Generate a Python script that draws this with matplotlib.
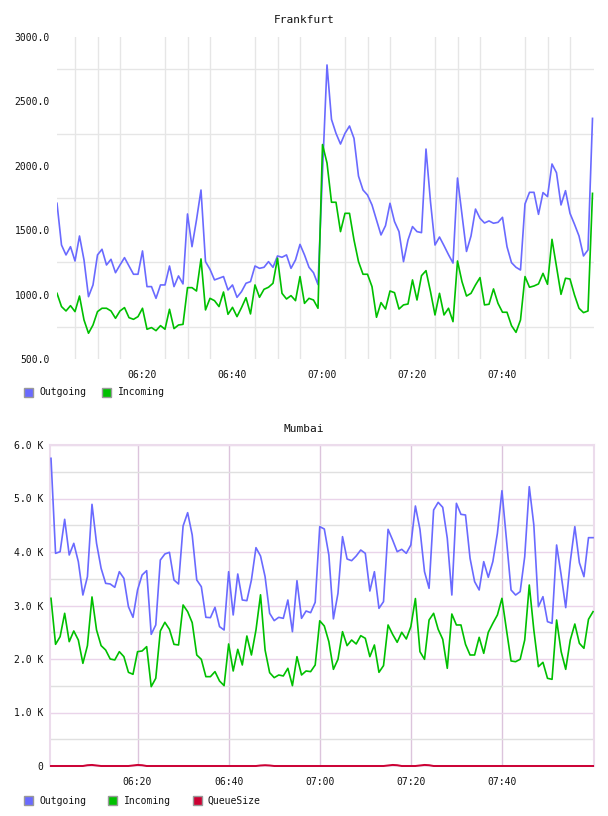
import numpy as np
import pandas as pd
import matplotlib
matplotlib.use("Agg")
import matplotlib.pyplot as plt
import matplotlib.dates as mdates
from matplotlib.patches import Rectangle
from matplotlib.ticker import FixedLocator, FuncFormatter

# ---------------- data ----------------
times = pd.date_range("2024-01-01 06:01", periods=120, freq="min")
x_label_times = pd.to_datetime(["2024-01-01 06:20", "2024-01-01 06:40", "2024-01-01 07:00",
                                "2024-01-01 07:20", "2024-01-01 07:40"])
x_tick_labels = ["06:20", "06:40", "07:00", "07:20", "07:40"]

fra_title = "Frankfurt"
fra_series = ["Outgoing", "Incoming"]
fra_outgoing = [
    1709, 1385, 1308, 1372, 1261, 1455, 1269, 984, 1075, 1308,
    1352, 1230, 1274, 1170, 1230, 1287, 1222, 1158, 1158, 1339,
    1062, 1062, 971, 1075, 1075, 1222, 1062, 1145, 1083, 1626,
    1372, 1580, 1812, 1256, 1196, 1114, 1127, 1140, 1036, 1075,
    979, 1023, 1088, 1101, 1222, 1204, 1212, 1256, 1212, 1300,
    1290, 1308, 1204, 1269, 1390, 1308, 1212, 1170, 1078, 1950,
    2783, 2360, 2252, 2169, 2252, 2309, 2213, 1920, 1812, 1773,
    1696, 1579, 1463, 1535, 1709, 1567, 1489, 1256, 1424, 1528,
    1489, 1481, 2130, 1720, 1385, 1447, 1380, 1310, 1245, 1905,
    1620, 1335, 1455, 1664, 1592, 1556, 1572, 1554, 1561, 1600,
    1372, 1248, 1212, 1191, 1704, 1794, 1794, 1623, 1792, 1761,
    2014, 1946, 1696, 1807, 1631, 1546, 1455, 1300, 1347, 2368,
]
fra_incoming = [
    1010, 907, 873, 914, 868, 989, 803, 700, 764, 868,
    894, 894, 873, 816, 873, 899, 821, 808, 829, 894,
    731, 744, 720, 759, 731, 886, 736, 764, 769, 1054,
    1054, 1028, 1277, 881, 971, 953, 907, 1020, 847, 901,
    829, 899, 976, 850, 1075, 979, 1041, 1057, 1088, 1282,
    1010, 966, 992, 953, 1140, 932, 971, 958, 894, 2165,
    2022, 1717, 1717, 1489, 1631, 1631, 1424, 1256, 1158, 1158,
    1062, 824, 938, 888, 1028, 1015, 888, 920, 927, 1114,
    958, 1147, 1186, 1023, 842, 1010, 842, 894, 790, 1261,
    1100, 989, 1010, 1075, 1132, 920, 925, 1044, 932, 863,
    863, 759, 707, 803, 1140, 1057, 1067, 1083, 1165, 1080,
    1429, 1217, 1002, 1127, 1121, 997, 894, 860, 873, 1786,
]
fra_y_ticks = [500, 1000, 1500, 2000, 2500, 3000]

mum_title = "Mumbai"
mum_series = ["Outgoing", "Incoming", "QueueSize"]
mum_outgoing = [
    5751, 3975, 4006, 4611, 3944, 4162, 3820, 3196, 3539, 4891,
    4162, 3695, 3414, 3402, 3340, 3632, 3508, 2978, 2779, 3290,
    3570, 3651, 2461, 2636, 3850, 3963, 3994, 3477, 3402, 4486,
    4735, 4318, 3477, 3352, 2779, 2773, 2966, 2605, 2542, 3632,
    2823, 3589, 3103, 3090, 3477, 4081, 3925, 3539, 2854, 2717,
    2779, 2760, 3103, 2511, 3464, 2760, 2897, 2866, 3060, 4474,
    4430, 3944, 2750, 3227, 4287, 3869, 3838, 3925, 4037, 3975,
    3271, 3632, 2947, 3072, 4424, 4224, 4006, 4050, 3975, 4131,
    4860, 4424, 3632, 3321, 4785, 4928, 4835, 4256, 3196, 4910,
    4704, 4692, 3882, 3446, 3290, 3820, 3527, 3820, 4349, 5146,
    4224, 3290, 3196, 3259, 3913, 5221, 4505, 2978, 3165, 2698,
    2667, 4131, 3570, 2960, 3820, 4474, 3800, 3539, 4268, 4268,
]
mum_incoming = [
    3134, 2274, 2418, 2854, 2324, 2524, 2355, 1919, 2250, 3160,
    2542, 2250, 2168, 2000, 1982, 2137, 2044, 1751, 1714, 2137,
    2150, 2231, 1483, 1639, 2524, 2686, 2555, 2274, 2262, 3010,
    2885, 2679, 2075, 1994, 1670, 1670, 1764, 1589, 1502, 2281,
    1776, 2181, 1888, 2430, 2075, 2542, 3200, 2168, 1745, 1651,
    1701, 1683, 1826, 1502, 2044, 1701, 1776, 1764, 1888, 2714,
    2617, 2324, 1807, 1994, 2511, 2250, 2355, 2281, 2436, 2387,
    2044, 2262, 1751, 1876, 2636, 2461, 2312, 2499, 2374, 2605,
    3130, 2137, 1994, 2729, 2854, 2555, 2368, 1826, 2841, 2636,
    2636, 2274, 2075, 2075, 2405, 2106, 2499, 2667, 2823, 3134,
    2542, 1963, 1950, 1994, 2355, 3383, 2542, 1857, 1938, 1639,
    1620, 2729, 2137, 1807, 2355, 2654, 2293, 2200, 2742, 2885,
]
mum_queue = [
    0, 0, 0, 0, 0, 0, 0, 0, 15, 20,
    10, 0, 0, 0, 0, 0, 0, 0, 10, 20,
    15, 0, 0, 0, 0, 0, 0, 0, 0, 0,
    0, 0, 0, 0, 0, 0, 0, 0, 0, 0,
    0, 0, 0, 0, 0, 0, 10, 15, 10, 0,
    0, 0, 0, 0, 0, 0, 0, 0, 0, 0,
    0, 0, 0, 0, 0, 0, 0, 0, 0, 0,
    0, 0, 0, 0, 10, 20, 15, 0, 0, 0,
    0, 10, 20, 15, 0, 0, 0, 0, 0, 0,
    0, 0, 0, 0, 0, 0, 0, 0, 0, 0,
    0, 0, 0, 0, 0, 0, 0, 0, 0, 0,
    0, 0, 0, 0, 0, 0, 0, 0, 0, 0,
]
mum_y_ticks = [0, 1000, 2000, 3000, 4000, 5000, 6000]

colors = {"Outgoing": "#6a6aff", "Incoming": "#00c000", "QueueSize": "#cc0033"}

# ---------------- layout ----------------
W, H = 608, 816
fig = plt.figure(figsize=(W / 100, H / 100), dpi=100)
fig.patch.set_facecolor("white")
MONO = ["DejaVu Sans Mono"]
TXT = "#111111"


def px_axes(left, top, right, bottom):
    return fig.add_axes([left / W, (H - bottom) / H, (right - left) / W, (bottom - top) / H])


x = mdates.date2num(times)
one_min = 1.0 / (24 * 60)
grid5 = mdates.date2num(pd.date_range("2024-01-01 06:05", "2024-01-01 07:55", freq="5min"))
major_x = mdates.date2num(x_label_times)

# ---------------- Frankfurt ----------------
ax1 = px_axes(57, 37, 594, 359)
ax1.plot(x, fra_outgoing, color=colors["Outgoing"], lw=1.2, zorder=3)
ax1.plot(x, fra_incoming, color=colors["Incoming"], lw=1.2, zorder=3)
ax1.set_xlim(x[0], x[0] + 537 / 4.5 * one_min)
ax1.set_ylim(500, 3000)
ax1.xaxis.set_major_locator(FixedLocator(major_x))
ax1.set_xticklabels(x_tick_labels)
ax1.xaxis.set_minor_locator(FixedLocator(grid5))
ax1.yaxis.set_major_locator(FixedLocator(fra_y_ticks))
ax1.yaxis.set_major_formatter(FuncFormatter(lambda v, p: f"{v:.1f}"))
ax1.yaxis.set_minor_locator(FixedLocator([750, 1250, 1750, 2250, 2750]))
ax1.xaxis.grid(False, which="major")
ax1.yaxis.grid(False, which="major")
ax1.xaxis.grid(True, which="minor", color="#e6e6e6", lw=1.0)
ax1.yaxis.grid(True, which="minor", color="#e6e6e6", lw=1.0)
ax1.set_axisbelow(True)
for s in ax1.spines.values():
    s.set_visible(False)
ax1.tick_params(which="both", length=0)
ax1.tick_params(axis="y", pad=5)
ax1.tick_params(axis="x", pad=8)
for lab in ax1.get_xticklabels() + ax1.get_yticklabels():
    lab.set_family(MONO)
    lab.set_fontsize(7)
    lab.set_color(TXT)

fig.text(0.5, (H - 20) / H, fra_title, ha="center", va="center",
         family=MONO, fontsize=8, color=TXT)

# ---------------- Mumbai ----------------
ax2 = px_axes(50, 445, 594, 766)
ax2.plot(x, mum_outgoing, color=colors["Outgoing"], lw=1.2, zorder=3)
ax2.plot(x, mum_incoming, color=colors["Incoming"], lw=1.2, zorder=3)
ax2.plot(x, mum_queue, color=colors["QueueSize"], lw=1.4, zorder=4, clip_on=False)
ax2.set_xlim(x[0] - 1 / 4.555 * one_min, x[0] + 543 / 4.555 * one_min)
ax2.set_ylim(0, 6000)
ax2.xaxis.set_major_locator(FixedLocator(major_x))
ax2.set_xticklabels(x_tick_labels)
minor_x2 = [g for g in grid5 if not np.any(np.isclose(g, major_x))]
ax2.xaxis.set_minor_locator(FixedLocator(minor_x2))
ax2.yaxis.set_major_locator(FixedLocator(mum_y_ticks))
ax2.yaxis.set_major_formatter(FuncFormatter(lambda v, p: "0" if v == 0 else f"{v/1000:.1f} K"))
ax2.yaxis.set_minor_locator(FixedLocator([500, 1500, 2500, 3500, 4500, 5500]))
ax2.xaxis.grid(True, which="minor", color="#e0e0e0", lw=1.0)
ax2.yaxis.grid(True, which="minor", color="#e0e0e0", lw=1.0)
ax2.yaxis.grid(True, which="major", color="#ead4ea", lw=1.0)
ax2.xaxis.grid(True, which="major", color="#dcc4dc", lw=1.0)
ax2.set_axisbelow(True)
for s in ax2.spines.values():
    s.set_color("#ecdcec")
    s.set_linewidth(1.5)
ax2.tick_params(which="both", length=0)
ax2.tick_params(axis="y", pad=5)
ax2.tick_params(axis="x", pad=8)
for lab in ax2.get_xticklabels() + ax2.get_yticklabels():
    lab.set_family(MONO)
    lab.set_fontsize(7)
    lab.set_color(TXT)

fig.text(0.5, (H - 429) / H, mum_title, ha="center", va="center",
         family=MONO, fontsize=8, color=TXT)


# ---------------- legends ----------------
def legend(names, ycen, xs_box, xs_txt):
    for name, xb, xt in zip(names, xs_box, xs_txt):
        fig.patches.append(Rectangle((xb / W, (H - ycen - 4.5) / H), 9 / W, 9 / H,
                                     transform=fig.transFigure, facecolor=colors[name],
                                     edgecolor="#999999", lw=1.0))
        fig.text(xt / W, (H - ycen) / H, name, ha="left", va="center",
                 family=MONO, fontsize=7, color=TXT)


legend(fra_series, 392.5, [24, 102], [39, 118])
legend(mum_series, 800.5, [24, 108, 193], [39, 124, 207])

fig.savefig("out.png", dpi=100, facecolor="white")
